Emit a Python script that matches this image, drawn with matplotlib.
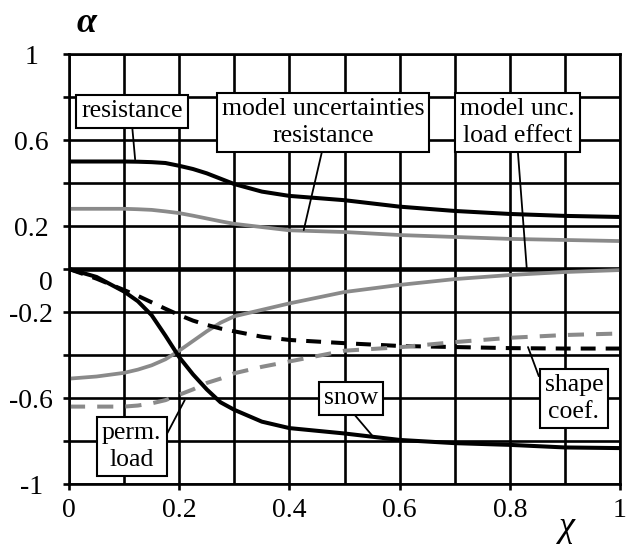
import matplotlib
matplotlib.use("Agg")
import matplotlib.pyplot as plt
from matplotlib.transforms import ScaledTranslation

# ---- data ----
chi = [0.0, 0.05, 0.1, 0.125, 0.15, 0.175, 0.2, 0.225, 0.25, 0.275, 0.3, 0.35, 0.4, 0.5, 0.6, 0.7, 0.8, 0.9, 1.0]
alpha_resistance = [0.50, 0.50, 0.50, 0.499, 0.497, 0.493, 0.48, 0.465, 0.445, 0.42, 0.395, 0.36, 0.34, 0.32, 0.29, 0.27, 0.256, 0.247, 0.242]
alpha_model_res = [0.28, 0.28, 0.28, 0.278, 0.275, 0.268, 0.26, 0.248, 0.235, 0.222, 0.21, 0.195, 0.18, 0.172, 0.158, 0.149, 0.14, 0.135, 0.13]
alpha_model_load = [-0.51, -0.50, -0.483, -0.468, -0.448, -0.42, -0.38, -0.335, -0.29, -0.25, -0.22, -0.19, -0.16, -0.107, -0.074, -0.047, -0.028, -0.014, -0.005]
alpha_snow = [0.0, -0.037, -0.105, -0.15, -0.215, -0.31, -0.41, -0.49, -0.56, -0.62, -0.655, -0.71, -0.74, -0.765, -0.795, -0.81, -0.818, -0.83, -0.833]
alpha_shape = [0.0, -0.045, -0.098, -0.125, -0.155, -0.185, -0.214, -0.24, -0.26, -0.277, -0.29, -0.315, -0.33, -0.345, -0.358, -0.363, -0.368, -0.37, -0.37]
alpha_perm = [-0.64, -0.64, -0.64, -0.635, -0.625, -0.61, -0.585, -0.56, -0.53, -0.51, -0.485, -0.455, -0.43, -0.38, -0.364, -0.34, -0.32, -0.307, -0.30]

xticks = [0, 0.2, 0.4, 0.6, 0.8, 1.0]
xtick_labels = ["0", "0.2", "0.4", "0.6", "0.8", "1"]
xgrid = [0.1 * i for i in range(11)]
yticks = [-1, -0.8, -0.6, -0.4, -0.2, 0, 0.2, 0.4, 0.6, 0.8, 1]
ytick_labels = ["-1", "", "-0.6", "", "-0.2", "0", "0.2", "", "0.6", "", "1"]

# label text, box centre, pointer target, pointer start on box (relative)
labels = [
    ("resistance", (0.114, 0.733), (0.12, 0.51), (0.5, 0.0)),
    ("model uncertainties\nresistance", (0.461, 0.681), (0.426, 0.181), (0.5, 0.0)),
    ("model unc.\nload effect", (0.814, 0.681), (0.831, -0.005), (0.5, 0.0)),
    ("perm.\nload", (0.114, -0.826), (0.21, -0.61), (1.0, 0.55)),
    ("snow", (0.512, -0.602), (0.552, -0.78), (0.48, 0.0)),
    ("shape\ncoef.", (0.9165, -0.602), (0.833, -0.363), (0.0, 0.63)),
]

serif = ["Liberation Serif", "DejaVu Serif"]
gray = "#8a8a8a"

fig = plt.figure(figsize=(6.26, 5.44), dpi=100)
ax = fig.add_axes([69 / 626, 1 - 484 / 544, 551 / 626, 430 / 544])
ax.set_xlim(0, 1)
ax.set_ylim(-1, 1)

# grid
for gx in xgrid:
    ax.axvline(gx, color="black", lw=1.9, zorder=1)
for gy in yticks:
    ax.axhline(gy, color="black", lw=1.9, zorder=1)
ax.axhline(0, color="black", lw=3.3, zorder=2)

# curves
ax.plot(chi, alpha_resistance, color="black", lw=2.9, zorder=3)
ax.plot(chi, alpha_model_res, color=gray, lw=2.7, zorder=3)
ax.plot(chi, alpha_model_load, color=gray, lw=2.7, zorder=3)
ax.plot(chi, alpha_snow, color="black", lw=2.9, zorder=3)
ax.plot(chi, alpha_shape, color="black", lw=2.9, dashes=(3.7, 2.5), zorder=3)
ax.plot(chi, alpha_perm, color=gray, lw=2.9, dashes=(4.0, 3.0), zorder=3)

# ticks
ax.set_xticks(xticks)
ax.set_xticklabels(xtick_labels, fontfamily=serif, fontsize=20)
ax.set_yticks(yticks)
ax.set_yticklabels(ytick_labels, fontfamily=serif, fontsize=20)
ax.tick_params(axis="both", direction="out", length=4.3, width=1.9, color="black")
ax.tick_params(axis="x", pad=6)
ax.tick_params(axis="y", pad=23)
for lab in ax.get_yticklabels():
    lab.set_ha("center")
    if lab.get_text() == "0":
        lab.set_transform(lab.get_transform() + ScaledTranslation(0.15, -0.12, fig.dpi_scale_trans))
for sp in ax.spines.values():
    sp.set_linewidth(1.9)
    sp.set_zorder(4)

# annotation boxes
for text, (bx, by), (tx, ty), rel in labels:
    ax.annotate(text, xy=(tx, ty), xytext=(bx, by), textcoords="data",
                ha="center", va="center", fontfamily=serif, fontsize=18.5,
                linespacing=1.3, zorder=6,
                bbox=dict(boxstyle="square,pad=0.2", fc="white", ec="black", lw=1.5),
                arrowprops=dict(arrowstyle="-", color="black", lw=1.3,
                                shrinkA=0, shrinkB=0, relpos=rel))

fig.text(87 / 626, 1 - 24 / 544, "α", fontfamily=serif, fontsize=26,
         fontweight="bold", fontstyle="italic", ha="center", va="center")
fig.text(567 / 626, 1 - 527 / 544, "χ", fontfamily=serif, fontsize=26,
         fontstyle="italic", ha="center", va="center")

fig.savefig("out.png", dpi=100)
